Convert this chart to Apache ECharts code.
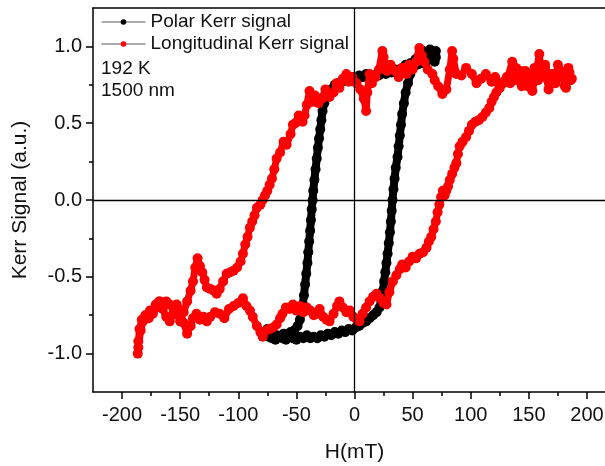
<!DOCTYPE html>
<html>
<head>
<meta charset="utf-8">
<script src="https://cdn.jsdelivr.net/npm/echarts@6/dist/echarts.min.js"></script>
<style>html,body{margin:0;padding:0;background:#fff;}#c{width:605px;height:466px;}</style>
</head>
<body>
<div id="c"></div>
<script>
// Polar Kerr loop: field sweep (mT) and signal
const polarH = [70,69,68,66,64,62,60,58,56,54,52,50,48,46,44,41,38,35,32,30,27,24,21,19,16,13,10,7,4,1,-2,-5,-8,-11,-14,-17,-20,-22,-24,-26,-27.5,-28.5,-29.5,-30.5,-31.5,-32.5,-33.5,-34.5,-35.5,-36,-36.8,-37.5,-38.2,-39,-39.8,-40.5,-41.5,-42.5,-43.5,-44.5,-45.5,-47,-49,-52,-55,-58,-61,-64,-67,-70,-73,-75,
  -74,-71,-68,-65,-62,-59,-56,-53,-50,-47,-44,-41,-38,-35,-32,-29,-26,-23,-20,-17,-14,-11,-8,-5,-2,1,4,7,10,13,16,19,21.5,23,24.5,25.5,26.5,27.5,28.5,29.5,30.5,31.3,32,32.7,33.5,34.5,35.5,37,38,39,40,41,42.5,44,46,48,50,53,56,59,62,65,68,70];
const polarKerr = [0.97,0.90,0.95,0.92,0.96,0.90,0.94,0.89,0.93,0.88,0.91,0.87,0.89,0.86,0.88,0.86,0.84,0.85,0.83,0.84,0.82,0.83,0.81,0.82,0.80,0.81,0.82,0.80,0.81,0.79,0.80,0.78,0.79,0.77,0.76,0.75,0.72,0.70,0.67,0.63,0.58,0.52,0.46,0.40,0.34,0.27,0.20,0.13,0.06,0.0,-0.06,-0.13,-0.20,-0.27,-0.34,-0.41,-0.48,-0.55,-0.62,-0.68,-0.73,-0.78,-0.82,-0.85,-0.86,-0.88,-0.87,-0.89,-0.88,-0.87,-0.86,-0.84,
  -0.89,-0.90,-0.91,-0.89,-0.90,-0.91,-0.89,-0.90,-0.91,-0.89,-0.90,-0.88,-0.90,-0.89,-0.90,-0.88,-0.89,-0.87,-0.88,-0.86,-0.87,-0.85,-0.86,-0.84,-0.85,-0.83,-0.82,-0.80,-0.79,-0.77,-0.75,-0.73,-0.70,-0.65,-0.59,-0.53,-0.47,-0.41,-0.35,-0.28,-0.21,-0.14,-0.07,0.0,0.07,0.14,0.21,0.28,0.35,0.42,0.49,0.56,0.63,0.70,0.76,0.82,0.87,0.92,0.95,0.97,0.96,0.98,0.96,0.93];

// Longitudinal Kerr loop
const longH = [186,184,181,178.7,175,172,170,167,164,161,159,156,153,150,147,144,141.8,139,135.7,132,128,124.6,121,118,113,109,105,101,96,92,87.6,85,84,82,79,75.6,72,69,67,63,60,58,55.8,53,50,47,44.7,41,38,35,31,28,25,24,21,18,15,13,11,10,8,5,1.7,-2,-5,-7,-10,-13,-15.5,-18,-21.5,-25,-28,-31,-34,-36,-38.7,-41,-43,-44.7,-48,-51,-53,-55,-58.4,-61,-64,-67,-69,-71,-73,-75,-77,-79,-81,-84,-86,-88,-90,-92,-94,-96,-98,-101,-104,-107,-110,-113,-116,-118.6,-121,-124,-127,-129,-131,-133,-135,-137,-139,-141,-144,-147,-150,-153,-156,-159,-162,-165,-167.5,-170,-173.5,-176,-179,-182,-184,-186,-186.5,
  -186,-185,-183,-180,-177,-174,-171,-168,-165,-162,-159,-156,-153,-150,-147,-144,-141,-139,-136,-133,-130,-127,-124,-120,-116,-112,-108,-104,-100,-96,-93,-90,-87.6,-84,-81,-79,-76,-73,-70,-67,-64,-62,-59,-56,-53,-50,-47,-44,-41,-38,-35,-33,-30,-27,-24,-21.5,-18,-15,-13,-10,-7,-4,-1,2,4.3,7,10,13,16,19,22,25,27.5,30,33,36,39,41,44,47,50,53,56,59,62,64,66,68,70,71.5,73,74.5,76,77.5,79,80.5,82,84,86,87.6,89,90.5,93,96,98.5,101,104,107,110,113,116,118,120,122,125,128,131,134,137,140,143,146,149,152,155,158,161,164,167,170,173,176,179,182,185,187];
const longKerr = [0.78,0.86,0.74,0.82,0.88,0.76,0.80,0.72,0.86,0.80,0.95,0.82,0.71,0.78,0.84,0.74,0.79,0.86,0.90,0.80,0.76,0.73,0.80,0.77,0.82,0.79,0.76,0.82,0.86,0.81,0.82,0.92,0.97,0.85,0.72,0.69,0.74,0.78,0.82,0.85,0.90,0.94,0.99,0.90,0.85,0.88,0.82,0.86,0.80,0.84,0.88,0.84,0.93,0.97,0.85,0.80,0.76,0.82,0.70,0.58,0.66,0.72,0.76,0.80,0.77,0.82,0.79,0.73,0.76,0.70,0.67,0.72,0.66,0.63,0.68,0.64,0.71,0.62,0.55,0.51,0.55,0.50,0.49,0.43,0.36,0.38,0.31,0.27,0.20,0.14,0.10,0.06,0.03,0.0,-0.03,-0.05,-0.10,-0.14,-0.18,-0.24,-0.29,-0.35,-0.40,-0.44,-0.46,-0.47,-0.48,-0.53,-0.58,-0.61,-0.59,-0.58,-0.57,-0.52,-0.47,-0.43,-0.38,-0.44,-0.53,-0.59,-0.66,-0.73,-0.79,-0.74,-0.70,-0.68,-0.66,-0.69,-0.66,-0.70,-0.74,-0.72,-0.77,-0.79,-0.85,-0.96,-1.0,
  -0.92,-0.84,-0.78,-0.75,-0.77,-0.72,-0.68,-0.66,-0.71,-0.76,-0.79,-0.74,-0.68,-0.72,-0.80,-0.87,-0.82,-0.77,-0.74,-0.78,-0.76,-0.79,-0.76,-0.73,-0.74,-0.77,-0.71,-0.69,-0.67,-0.64,-0.69,-0.72,-0.76,-0.82,-0.86,-0.89,-0.85,-0.84,-0.83,-0.81,-0.77,-0.74,-0.70,-0.71,-0.68,-0.72,-0.69,-0.73,-0.70,-0.72,-0.75,-0.74,-0.71,-0.76,-0.78,-0.79,-0.74,-0.69,-0.66,-0.70,-0.73,-0.72,-0.76,-0.78,-0.79,-0.74,-0.70,-0.66,-0.63,-0.61,-0.64,-0.67,-0.68,-0.60,-0.53,-0.49,-0.45,-0.42,-0.44,-0.40,-0.37,-0.38,-0.35,-0.34,-0.31,-0.27,-0.24,-0.19,-0.14,-0.08,-0.03,0.02,0.06,0.03,0.06,0.09,0.13,0.17,0.21,0.24,0.30,0.35,0.38,0.41,0.45,0.49,0.51,0.52,0.54,0.57,0.60,0.64,0.67,0.70,0.73,0.77,0.80,0.76,0.82,0.78,0.84,0.79,0.74,0.81,0.86,0.78,0.83,0.88,0.77,0.82,0.76,0.85,0.80,0.73,0.83,0.79];

const xMajorTicks = [-200,-150,-100,-50,0,50,100,150,200];
const xMinorTicks = [-175,-125,-75,-25,25,75,125,175];
const yMajorTicks = [-1.0,-0.5,0.0,0.5,1.0];
const yMinorTicks = [-0.75,-0.25,0.25,0.75];
const notes = ['192 K','1500 nm'];

const zip = (a,b) => a.map((v,i) => [v,b[i]]);
const FONT = '"Liberation Sans", Arial, sans-serif';
const BLACK = '#000';

const chart = echarts.init(document.getElementById('c'), null, {renderer:'canvas'});
chart.setOption({
  animation: false,
  backgroundColor: '#fff',
  grid: {left: 93, top: 8, width: 523, height: 384, containLabel: false, outerBoundsMode: 'none'},
  legend: {
    left: 101, top: 12, padding: 0, orient: 'vertical',
    itemWidth: 44, itemHeight: 7, itemGap: 2,
    textStyle: {fontFamily: FONT, fontSize: 19, color: '#111', lineHeight: 20},
    lineStyle: {width: 1, color: '#555'},
    data: ['Polar Kerr signal','Longitudinal Kerr signal']
  },
  graphic: notes.map((t,i) => ({
    type: 'text', left: 101, top: 59 + i*22,
    style: {text: t, font: '19px ' + FONT, fill: '#111'}
  })),
  xAxis: [
    {type:'value', position:'bottom', min:-225, max:225, interval:25,
     axisLine:{show:true, onZero:false, lineStyle:{color:BLACK, width:1.5}},
     axisTick:{show:true, inside:false, length:7, customValues:xMajorTicks, lineStyle:{color:BLACK, width:1.5}},
     axisLabel:{customValues:xMajorTicks, fontFamily:FONT, fontSize:20, color:'#111', margin:13},
     splitLine:{show:false},
     name:'H(mT)', nameLocation:'middle', nameGap:50,
     nameTextStyle:{fontFamily:FONT, fontSize:21, color:'#111'}},
    {type:'value', position:'bottom', min:-225, max:225, interval:25,
     axisLine:{show:false, onZero:false},
     axisTick:{show:true, inside:false, length:4, customValues:xMinorTicks, lineStyle:{color:BLACK, width:1.5}},
     axisLabel:{show:false}, splitLine:{show:false}},
    {type:'value', position:'top', min:-225, max:225,
     axisLine:{show:true, onZero:false, lineStyle:{color:BLACK, width:1.5}},
     axisTick:{show:false}, axisLabel:{show:false}, splitLine:{show:false}}
  ],
  yAxis: [
    {type:'value', position:'left', min:-1.25, max:1.25, interval:0.25,
     axisLine:{show:true, onZero:false, lineStyle:{color:BLACK, width:1.5}},
     axisTick:{show:true, inside:false, length:7, customValues:yMajorTicks, lineStyle:{color:BLACK, width:1.5}},
     axisLabel:{customValues:yMajorTicks, formatter:v => v.toFixed(1), fontFamily:FONT, fontSize:20, color:'#111', margin:11},
     splitLine:{show:false},
     name:'Kerr Signal (a.u.)', nameLocation:'middle', nameGap:62,
     nameTextStyle:{fontFamily:FONT, fontSize:21, color:'#111'}},
    {type:'value', position:'left', min:-1.25, max:1.25, interval:0.25,
     axisLine:{show:false, onZero:false},
     axisTick:{show:true, inside:false, length:4, customValues:yMinorTicks, lineStyle:{color:BLACK, width:1.5}},
     axisLabel:{show:false}, splitLine:{show:false}}
  ],
  series: [
    {name:'Polar Kerr signal', type:'line', xAxisIndex:0, yAxisIndex:0,
     data: zip(polarH, polarKerr), symbol:'circle', symbolSize:10, showAllSymbol:true,
     itemStyle:{color:'#000'}, lineStyle:{color:'#000', width:8}, z:2},
    {name:'Longitudinal Kerr signal', type:'line', xAxisIndex:0, yAxisIndex:0,
     data: zip(longH, longKerr), symbol:'circle', symbolSize:10, showAllSymbol:true,
     itemStyle:{color:'#ff0000'}, lineStyle:{color:'#ff0000', width:7}, z:3,
     markLine:{silent:true, symbol:['none','none'], label:{show:false},
       lineStyle:{color:'#000', width:1.3, type:'solid'},
       data:[{xAxis:0},{yAxis:0}]}}
  ]
});
</script>
</body>
</html>
